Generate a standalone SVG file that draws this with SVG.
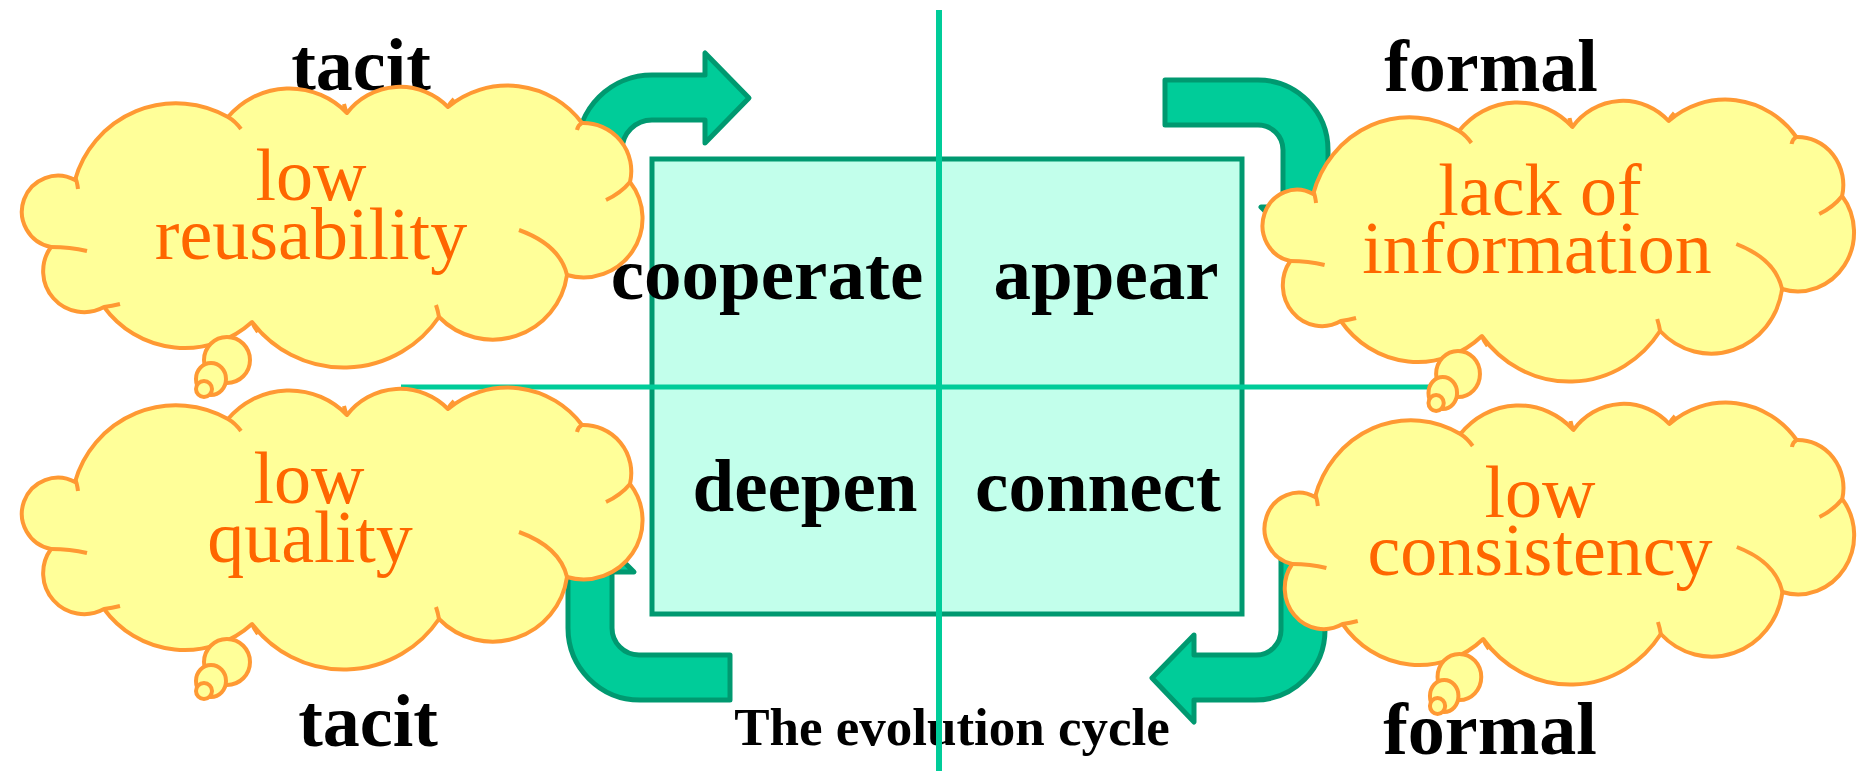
<svg xmlns="http://www.w3.org/2000/svg" width="1876" height="771" viewBox="0 0 1876 771">
<style>
.arrow{fill:#00CC99;stroke:#009970;stroke-width:5;stroke-linejoin:round}
.axis{stroke:#00CC99;fill:none}
.cloud{fill:#FFFF99;stroke:#FF9933;stroke-width:4;stroke-linejoin:round;vector-effect:non-scaling-stroke}
.tick{fill:none;stroke:#FF9933;stroke-width:4;stroke-linecap:butt;vector-effect:non-scaling-stroke}
.ct{font-family:"Liberation Serif","Times New Roman",serif;font-size:74px;fill:#FF6600;text-anchor:middle}
.lbl{font-family:"Liberation Serif","Times New Roman",serif;font-weight:bold;font-size:74px;fill:#000;text-anchor:middle}
.cell{font-family:"Liberation Serif","Times New Roman",serif;font-weight:bold;font-size:75px;fill:#000;text-anchor:middle}
</style>
<defs>
<g id="cloudShape">
<path class="cloud" d="M36,162 A36,36 0 1 1 60,95 A105,105 0 0 1 213,32 A80,80 0 0 1 332,28 A67,67 0 0 1 433,22 A93,93 0 0 1 567,38 A48,48 0 0 1 615,97 A59,59 0 0 1 552,190 A75,75 0 0 1 424,232 A115,115 0 0 1 237,237 A100,100 0 0 1 89,222 A41,41 0 0 1 36,162 Z"/>
<path class="tick" d="M60,92 Q62,96 63,104 M36,162 Q55,162 72,166 M89,222 Q97,221 105,219 M237,237 Q239,242 243,247 M424,232 Q423,226 421,220 M552,190 Q545,160 504,145 M615,97 Q606,108 591,115 M567,38 Q563,40 562,45 M433,22 Q435,18 439,14 M332,28 Q330,24 329,19 M213,32 Q220,36 226,44"/>
<ellipse class="cloud" cx="212" cy="275" rx="23" ry="23"/>
<ellipse class="cloud" cx="196" cy="294" rx="15" ry="16"/>
<ellipse class="cloud" cx="189" cy="304" rx="8" ry="8"/>
</g>
</defs>

<g id="connectors">
<path id="arrow-tl" class="arrow" d="M622,230 L622,150 A30,30 0 0 1 652,120 L705,120 L705,143 L749,98 L705,53 L705,75 L652,75 A75,75 0 0 0 577,150 L577,230 Z"/>
<path id="arrow-tr" class="arrow" d="M1165,80 L1258,80 A70,70 0 0 1 1328,150 L1328,207 L1349,207 L1305,251 L1261,207 L1283,207 L1283,150 A25,25 0 0 0 1258,125 L1165,125 Z"/>
<path id="arrow-br" class="arrow" d="M1281,500 L1281,630 A25,25 0 0 1 1256,655 L1194,655 L1194,635 L1152,678 L1194,722 L1194,700 L1255,700 A70,70 0 0 0 1325,630 L1325,500 Z"/>
<path id="arrow-bl" class="arrow" d="M730,655 L730,700 L640,700 A72,72 0 0 1 568,628 L568,572 L546,572 L590,528 L634,572 L612,572 L612,628 A27,27 0 0 0 639,655 Z"/>
</g>

<g id="box">
<rect x="652" y="159" width="590" height="455" fill="#C2FFEB" stroke="#009970" stroke-width="5"/>
</g>

<g id="axes">
<line class="axis" x1="939" y1="10" x2="939" y2="771" stroke-width="6"/>
<line class="axis" x1="401" y1="387" x2="1430" y2="387" stroke-width="5"/>
</g>

<g id="label-tacit-top"><text class="lbl" x="361" y="90">tacit</text></g>
<g id="label-formal-top"><text class="lbl" x="1491" y="91">formal</text></g>
<g id="label-tacit-bottom"><text class="lbl" x="368" y="746">tacit</text></g>
<g id="label-formal-bottom"><text class="lbl" x="1490" y="754">formal</text></g>

<g id="cloud-low-reusability">
<use href="#cloudShape" transform="translate(15,85)"/>
<text class="ct" x="311" y="200">low</text>
<text class="ct" x="311" y="259">reusability</text>
</g>
<g id="cloud-low-quality">
<use href="#cloudShape" transform="translate(15,387)"/>
<text class="ct" x="309" y="503">low</text>
<text class="ct" x="310" y="562">quality</text>
</g>
<g id="cloud-lack-of-information">
<use href="#cloudShape" transform="translate(1256,99) scale(0.953,1)"/>
<text class="ct" x="1540" y="215">lack of</text>
<text class="ct" x="1537" y="273">information</text>
</g>
<g id="cloud-low-consistency">
<use href="#cloudShape" transform="translate(1258,402) scale(0.95,1)"/>
<text class="ct" x="1540" y="517">low</text>
<text class="ct" x="1540" y="575">consistency</text>
</g>

<g id="cell-cooperate"><text class="cell" x="767" y="299">cooperate</text></g>
<g id="cell-appear"><text class="cell" x="1106" y="299">appear</text></g>
<g id="cell-deepen"><text class="cell" x="805" y="511">deepen</text></g>
<g id="cell-connect"><text class="cell" x="1098" y="511">connect</text></g>

<g id="title"><text x="952" y="745" font-family="'Liberation Serif','Times New Roman',serif" font-weight="bold" font-size="53" text-anchor="middle">The evolution cycle</text></g>
<line class="axis" x1="939" y1="700" x2="939" y2="771" stroke-width="6"/>
</svg>
